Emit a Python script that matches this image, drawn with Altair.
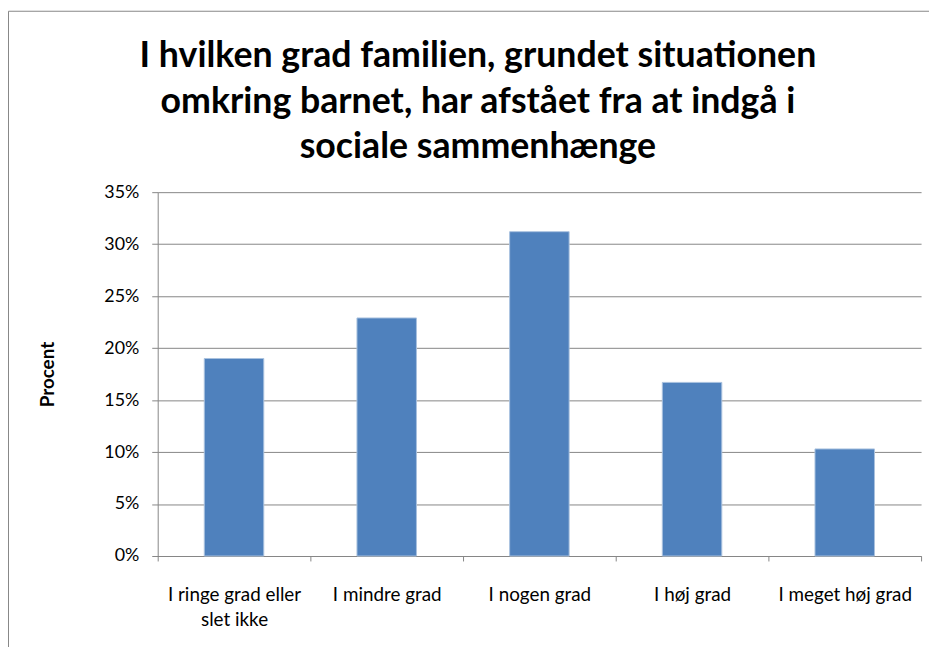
import altair as alt
import pandas as pd

categories = ["I ringe grad eller slet ikke", "I mindre grad", "I nogen grad", "I høj grad", "I meget høj grad"]
values = [0.190, 0.229, 0.312, 0.167, 0.103]
y_ticks = [0, 0.05, 0.10, 0.15, 0.20, 0.25, 0.30, 0.35]
title_lines = [
    "I hvilken grad familien, grundet situationen",
    "omkring barnet, har afstået fra at indgå i",
    "sociale sammenhænge",
]

df = pd.DataFrame({"Kategori": categories, "Procent": values})

W, H = 770, 367
GRAY = "#868686"
FONT = "Lato"

label_expr = (
    "datum.value == 'I ringe grad eller slet ikke' ? "
    "['I ringe grad eller', 'slet ikke'] : datum.value"
)

bars = alt.Chart(df).mark_bar(
    width=60, color="#4F81BD", stroke="#A9C1DF", strokeWidth=1
).encode(
    x=alt.X(
        "Kategori:N",
        sort=categories,
        scale=alt.Scale(paddingInner=0, paddingOuter=0),
        axis=alt.Axis(
            title=None,
            labelAngle=0,
            tickBand="extent",
            grid=False,
            domainColor=GRAY,
            tickColor=GRAY,
            tickSize=5,
            labelFont=FONT,
            labelFontSize=19,
            labelColor="black",
            labelPadding=25,
            labelLineHeight=25,
            labelExpr=label_expr,
        ),
    ),
    y=alt.Y(
        "Procent:Q",
        scale=alt.Scale(domain=[0, 0.35], nice=False),
        axis=alt.Axis(
            values=y_ticks,
            format=".0%",
            title="Procent",
            titleFont=FONT,
            titleFontSize=19,
            titleFontWeight="bold",
            titleColor="black",
            titlePadding=47,
            labelFont=FONT,
            labelFontSize=18,
            labelColor="black",
            labelPadding=13,
            tickSize=6,
            tickColor=GRAY,
            domainColor=GRAY,
            grid=True,
            gridColor=GRAY,
            gridWidth=1,
        ),
    ),
)

one = pd.DataFrame({"k": [0]})
left_border = alt.Chart(one).mark_rule(color=GRAY, strokeWidth=1).encode(
    x=alt.value(-150.5), y=alt.value(-182.5), y2=alt.value(470)
)
top_border = alt.Chart(one).mark_rule(color=GRAY, strokeWidth=1).encode(
    x=alt.value(-150.5), x2=alt.value(800), y=alt.value(-182.5)
)

chart = alt.layer(bars, left_border, top_border).properties(
    width=W,
    height=H,
    title=alt.TitleParams(
        text=title_lines,
        font=FONT,
        fontSize=36,
        fontWeight="bold",
        lineHeight=46,
        anchor="middle",
        dx=-62,
        offset=0,
        dy=157,
        color="black",
    ),
    autosize=alt.AutoSizeParams(type="none"),
    padding={"left": 151, "top": 183, "right": 8, "bottom": 89},
).configure_view(stroke=None)

chart.save("out.html", embed_options={"renderer": "svg", "actions": False})
